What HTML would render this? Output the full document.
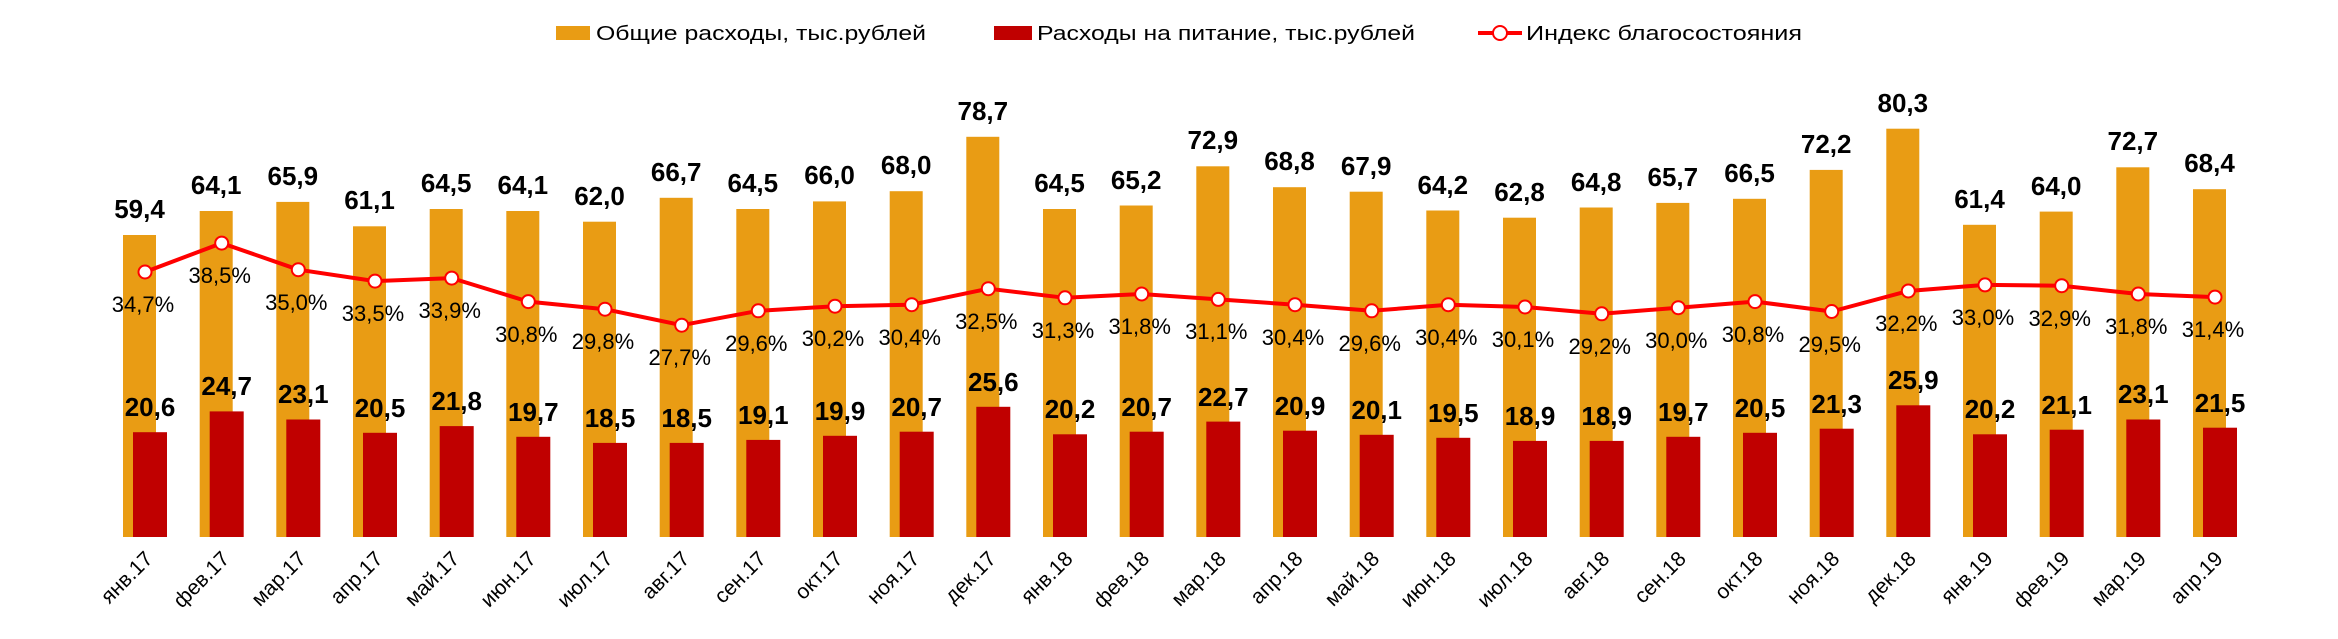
<!DOCTYPE html>
<html><head><meta charset="utf-8"><style>
html,body{margin:0;padding:0;background:#fff;}
svg{display:block;font-family:"Liberation Sans",Arial,sans-serif;}
.o{fill:#E99C14}.r{fill:#C00000}
.lo{font-size:26px;font-weight:bold;text-anchor:middle;fill:#000}
.lp{font-size:22px;text-anchor:middle;fill:#000}
.xl{font-size:21px;text-anchor:end;fill:#000}
.lg{font-size:20px;fill:#000}
</style></head><body>
<svg width="2338" height="639" viewBox="0 0 2338 639" xmlns="http://www.w3.org/2000/svg">
<rect x="556" y="26" width="34" height="14" class="o"/>
<text x="596" y="40" class="lg" textLength="330" lengthAdjust="spacingAndGlyphs">Общие расходы, тыс.рублей</text>
<rect x="994" y="26" width="38" height="14" class="r"/>
<text x="1037" y="40" class="lg" textLength="378" lengthAdjust="spacingAndGlyphs">Расходы на питание, тыс.рублей</text>
<line x1="1478" y1="33" x2="1522" y2="33" stroke="#FF0000" stroke-width="4"/>
<circle cx="1500" cy="33" r="7" fill="#fff" stroke="#FF0000" stroke-width="2"/>
<text x="1526" y="40" class="lg" textLength="276" lengthAdjust="spacingAndGlyphs">Индекс благосостояния</text>

<g id="bars">
<rect x="123" y="235.0" width="33" height="302.0" class="o"/>
<rect x="199.7" y="211.0" width="33" height="326.0" class="o"/>
<rect x="276.3" y="201.9" width="33" height="335.1" class="o"/>
<rect x="353" y="226.3" width="33" height="310.7" class="o"/>
<rect x="429.7" y="209.0" width="33" height="328.0" class="o"/>
<rect x="506.3" y="211.0" width="33" height="326.0" class="o"/>
<rect x="583" y="221.7" width="33" height="315.3" class="o"/>
<rect x="659.7" y="197.8" width="33" height="339.2" class="o"/>
<rect x="736.3" y="209.0" width="33" height="328.0" class="o"/>
<rect x="813" y="201.4" width="33" height="335.6" class="o"/>
<rect x="889.7" y="191.2" width="33" height="345.8" class="o"/>
<rect x="966.3" y="136.8" width="33" height="400.2" class="o"/>
<rect x="1043" y="209.0" width="33" height="328.0" class="o"/>
<rect x="1119.7" y="205.5" width="33" height="331.5" class="o"/>
<rect x="1196.3" y="166.3" width="33" height="370.7" class="o"/>
<rect x="1273" y="187.2" width="33" height="349.8" class="o"/>
<rect x="1349.7" y="191.7" width="33" height="345.3" class="o"/>
<rect x="1426.3" y="210.5" width="33" height="326.5" class="o"/>
<rect x="1503" y="217.7" width="33" height="319.3" class="o"/>
<rect x="1579.7" y="207.5" width="33" height="329.5" class="o"/>
<rect x="1656.3" y="202.9" width="33" height="334.1" class="o"/>
<rect x="1733" y="198.8" width="33" height="338.2" class="o"/>
<rect x="1809.7" y="169.9" width="33" height="367.1" class="o"/>
<rect x="1886.3" y="128.7" width="33" height="408.3" class="o"/>
<rect x="1963" y="224.8" width="33" height="312.2" class="o"/>
<rect x="2039.7" y="211.6" width="33" height="325.4" class="o"/>
<rect x="2116.3" y="167.3" width="33" height="369.7" class="o"/>
<rect x="2193" y="189.2" width="33" height="347.8" class="o"/>

<rect x="133" y="432.2" width="34" height="104.8" class="r"/>
<rect x="209.7" y="411.4" width="34" height="125.6" class="r"/>
<rect x="286.3" y="419.5" width="34" height="117.5" class="r"/>
<rect x="363" y="432.8" width="34" height="104.2" class="r"/>
<rect x="439.7" y="426.1" width="34" height="110.9" class="r"/>
<rect x="516.3" y="436.8" width="34" height="100.2" class="r"/>
<rect x="593" y="442.9" width="34" height="94.1" class="r"/>
<rect x="669.7" y="442.9" width="34" height="94.1" class="r"/>
<rect x="746.3" y="439.9" width="34" height="97.1" class="r"/>
<rect x="823" y="435.8" width="34" height="101.2" class="r"/>
<rect x="899.7" y="431.7" width="34" height="105.3" class="r"/>
<rect x="976.3" y="406.8" width="34" height="130.2" class="r"/>
<rect x="1053" y="434.3" width="34" height="102.7" class="r"/>
<rect x="1129.7" y="431.7" width="34" height="105.3" class="r"/>
<rect x="1206.3" y="421.6" width="34" height="115.4" class="r"/>
<rect x="1283" y="430.7" width="34" height="106.3" class="r"/>
<rect x="1359.7" y="434.8" width="34" height="102.2" class="r"/>
<rect x="1436.3" y="437.8" width="34" height="99.2" class="r"/>
<rect x="1513" y="440.9" width="34" height="96.1" class="r"/>
<rect x="1589.7" y="440.9" width="34" height="96.1" class="r"/>
<rect x="1666.3" y="436.8" width="34" height="100.2" class="r"/>
<rect x="1743" y="432.8" width="34" height="104.2" class="r"/>
<rect x="1819.7" y="428.7" width="34" height="108.3" class="r"/>
<rect x="1896.3" y="405.3" width="34" height="131.7" class="r"/>
<rect x="1973" y="434.3" width="34" height="102.7" class="r"/>
<rect x="2049.7" y="429.7" width="34" height="107.3" class="r"/>
<rect x="2126.3" y="419.5" width="34" height="117.5" class="r"/>
<rect x="2203" y="427.7" width="34" height="109.3" class="r"/>
</g>

<g class="lo">
<text x="139.5" y="218">59,4</text>
<text x="216.2" y="194">64,1</text>
<text x="292.8" y="185">65,9</text>
<text x="369.5" y="209">61,1</text>
<text x="446.2" y="192">64,5</text>
<text x="522.8" y="194">64,1</text>
<text x="599.5" y="205">62,0</text>
<text x="676.2" y="181">66,7</text>
<text x="752.8" y="192">64,5</text>
<text x="829.5" y="184">66,0</text>
<text x="906.2" y="174">68,0</text>
<text x="982.8" y="120">78,7</text>
<text x="1059.5" y="192">64,5</text>
<text x="1136.2" y="189">65,2</text>
<text x="1212.8" y="149">72,9</text>
<text x="1289.5" y="170">68,8</text>
<text x="1366.2" y="175">67,9</text>
<text x="1442.8" y="194">64,2</text>
<text x="1519.5" y="201">62,8</text>
<text x="1596.2" y="191">64,8</text>
<text x="1672.8" y="186">65,7</text>
<text x="1749.5" y="182">66,5</text>
<text x="1826.2" y="153">72,2</text>
<text x="1902.8" y="112">80,3</text>
<text x="1979.5" y="208">61,4</text>
<text x="2056.2" y="195">64,0</text>
<text x="2132.8" y="150">72,7</text>
<text x="2209.5" y="172">68,4</text>

<text x="150" y="416">20,6</text>
<text x="226.7" y="395">24,7</text>
<text x="303.3" y="403">23,1</text>
<text x="380" y="417">20,5</text>
<text x="456.7" y="410">21,8</text>
<text x="533.3" y="421">19,7</text>
<text x="610" y="427">18,5</text>
<text x="686.7" y="427">18,5</text>
<text x="763.3" y="424">19,1</text>
<text x="840" y="420">19,9</text>
<text x="916.7" y="416">20,7</text>
<text x="993.3" y="391">25,6</text>
<text x="1070" y="418">20,2</text>
<text x="1146.7" y="416">20,7</text>
<text x="1223.3" y="406">22,7</text>
<text x="1300" y="415">20,9</text>
<text x="1376.7" y="419">20,1</text>
<text x="1453.3" y="422">19,5</text>
<text x="1530" y="425">18,9</text>
<text x="1606.7" y="425">18,9</text>
<text x="1683.3" y="421">19,7</text>
<text x="1760" y="417">20,5</text>
<text x="1836.7" y="413">21,3</text>
<text x="1913.3" y="389">25,9</text>
<text x="1990" y="418">20,2</text>
<text x="2066.7" y="414">21,1</text>
<text x="2143.3" y="403">23,1</text>
<text x="2220" y="412">21,5</text>
</g>

<polyline fill="none" stroke="#FF0000" stroke-width="4" stroke-linejoin="round" points="145,272 221.7,243.1 298.3,269.7 375,281.1 451.7,278.1 528.3,301.6 605,309.2 681.7,325.2 758.3,310.8 835,306.2 911.7,304.7 988.3,288.7 1065,297.8 1141.7,294 1218.3,299.4 1295,304.7 1371.7,310.8 1448.3,304.7 1525,307 1601.7,313.8 1678.3,307.7 1755,301.6 1831.7,311.5 1908.3,291 1985,284.9 2061.7,285.7 2138.3,294 2215,297.1"/>
<g fill="#fff" stroke="#FF0000" stroke-width="2">
<circle cx="145" cy="272" r="6.5"/><circle cx="221.7" cy="243.1" r="6.5"/><circle cx="298.3" cy="269.7" r="6.5"/><circle cx="375" cy="281.1" r="6.5"/><circle cx="451.7" cy="278.1" r="6.5"/><circle cx="528.3" cy="301.6" r="6.5"/><circle cx="605" cy="309.2" r="6.5"/><circle cx="681.7" cy="325.2" r="6.5"/><circle cx="758.3" cy="310.8" r="6.5"/><circle cx="835" cy="306.2" r="6.5"/><circle cx="911.7" cy="304.7" r="6.5"/><circle cx="988.3" cy="288.7" r="6.5"/><circle cx="1065" cy="297.8" r="6.5"/><circle cx="1141.7" cy="294" r="6.5"/><circle cx="1218.3" cy="299.4" r="6.5"/><circle cx="1295" cy="304.7" r="6.5"/><circle cx="1371.7" cy="310.8" r="6.5"/><circle cx="1448.3" cy="304.7" r="6.5"/><circle cx="1525" cy="307" r="6.5"/><circle cx="1601.7" cy="313.8" r="6.5"/><circle cx="1678.3" cy="307.7" r="6.5"/><circle cx="1755" cy="301.6" r="6.5"/><circle cx="1831.7" cy="311.5" r="6.5"/><circle cx="1908.3" cy="291" r="6.5"/><circle cx="1985" cy="284.9" r="6.5"/><circle cx="2061.7" cy="285.7" r="6.5"/><circle cx="2138.3" cy="294" r="6.5"/><circle cx="2215" cy="297.1" r="6.5"/>
</g>

<g class="lp">
<text x="143" y="312">34,7%</text>
<text x="219.7" y="283">38,5%</text>
<text x="296.3" y="310">35,0%</text>
<text x="373" y="321">33,5%</text>
<text x="449.7" y="318">33,9%</text>
<text x="526.3" y="342">30,8%</text>
<text x="603" y="349">29,8%</text>
<text x="679.7" y="365">27,7%</text>
<text x="756.3" y="351">29,6%</text>
<text x="833" y="346">30,2%</text>
<text x="909.7" y="345">30,4%</text>
<text x="986.3" y="329">32,5%</text>
<text x="1063" y="338">31,3%</text>
<text x="1139.7" y="334">31,8%</text>
<text x="1216.3" y="339">31,1%</text>
<text x="1293" y="345">30,4%</text>
<text x="1369.7" y="351">29,6%</text>
<text x="1446.3" y="345">30,4%</text>
<text x="1523" y="347">30,1%</text>
<text x="1599.7" y="354">29,2%</text>
<text x="1676.3" y="348">30,0%</text>
<text x="1753" y="342">30,8%</text>
<text x="1829.7" y="352">29,5%</text>
<text x="1906.3" y="331">32,2%</text>
<text x="1983" y="325">33,0%</text>
<text x="2059.7" y="326">32,9%</text>
<text x="2136.3" y="334">31,8%</text>
<text x="2213" y="337">31,4%</text>
</g>

<g class="xl">
<text transform="translate(154,560) rotate(-45)">янв.17</text>
<text transform="translate(230.7,560) rotate(-45)">фев.17</text>
<text transform="translate(307.3,560) rotate(-45)">мар.17</text>
<text transform="translate(384,560) rotate(-45)">апр.17</text>
<text transform="translate(460.7,560) rotate(-45)">май.17</text>
<text transform="translate(537.3,560) rotate(-45)">июн.17</text>
<text transform="translate(614,560) rotate(-45)">июл.17</text>
<text transform="translate(690.7,560) rotate(-45)">авг.17</text>
<text transform="translate(767.3,560) rotate(-45)">сен.17</text>
<text transform="translate(844,560) rotate(-45)">окт.17</text>
<text transform="translate(920.7,560) rotate(-45)">ноя.17</text>
<text transform="translate(997.3,560) rotate(-45)">дек.17</text>
<text transform="translate(1074,560) rotate(-45)">янв.18</text>
<text transform="translate(1150.7,560) rotate(-45)">фев.18</text>
<text transform="translate(1227.3,560) rotate(-45)">мар.18</text>
<text transform="translate(1304,560) rotate(-45)">апр.18</text>
<text transform="translate(1380.7,560) rotate(-45)">май.18</text>
<text transform="translate(1457.3,560) rotate(-45)">июн.18</text>
<text transform="translate(1534,560) rotate(-45)">июл.18</text>
<text transform="translate(1610.7,560) rotate(-45)">авг.18</text>
<text transform="translate(1687.3,560) rotate(-45)">сен.18</text>
<text transform="translate(1764,560) rotate(-45)">окт.18</text>
<text transform="translate(1840.7,560) rotate(-45)">ноя.18</text>
<text transform="translate(1917.3,560) rotate(-45)">дек.18</text>
<text transform="translate(1994,560) rotate(-45)">янв.19</text>
<text transform="translate(2070.7,560) rotate(-45)">фев.19</text>
<text transform="translate(2147.3,560) rotate(-45)">мар.19</text>
<text transform="translate(2224,560) rotate(-45)">апр.19</text>
</g>
</svg>
</body></html>
